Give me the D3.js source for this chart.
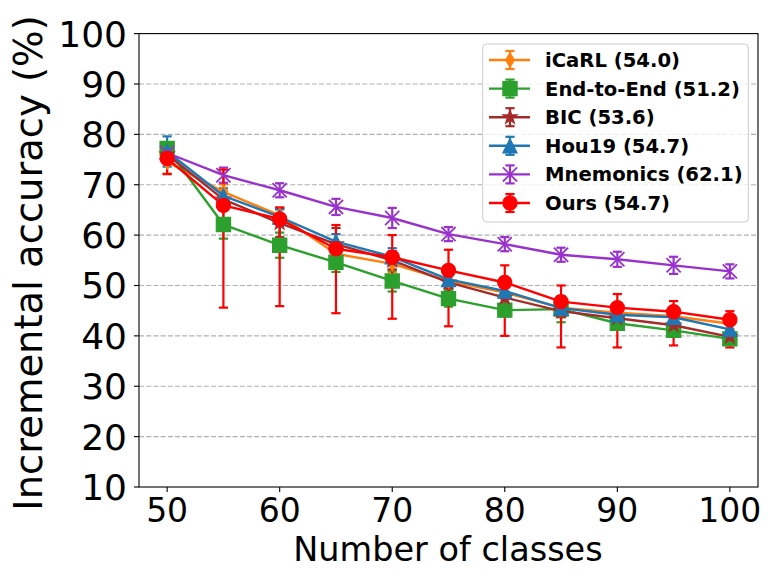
<!DOCTYPE html>
<html>
<head>
<meta charset="utf-8">
<script src="https://cdn.jsdelivr.net/npm/d3@7"></script>
<style>
  html, body { margin: 0; padding: 0; background: #fff; }
  svg { display: block; }
  text { font-family: "DejaVu Sans", sans-serif; }
</style>
</head>
<body>
<svg id="chart" width="771" height="578"></svg>
<script>
// ---- data ----
const classes = [50, 55, 60, 65, 70, 75, 80, 85, 90, 95, 100];
const yTicks = [10, 20, 30, 40, 50, 60, 70, 80, 90, 100];
const xTicks = [50, 60, 70, 80, 90, 100];

const seriesNames = ["iCaRL (54.0)", "End-to-End (51.2)", "BIC (53.6)", "Hou19 (54.7)", "Mnemonics (62.1)", "Ours (54.7)"];

const icarl     = [74.5, 68.6, 63.9, 56.3, 54.3, 50.9, 48.6, 45.6, 44.6, 43.9, 42.4];
const icarlErr  = [2.3, 1.5, 1.5, 1.5, 1.6, 1.4, 1.3, 1.2, 1.2, 1.1, 1.0];
const e2e       = [77.2, 62.1, 58.0, 54.6, 50.9, 47.4, 45.1, 45.3, 42.5, 41.1, 39.4];
const e2eErr    = [1.2, 2.8, 2.5, 1.9, 2.1, 1.6, 1.2, 2.6, 1.2, 1.1, 1.0];
const bic       = [76.0, 67.1, 62.4, 58.2, 55.0, 50.6, 47.6, 44.9, 43.5, 42.1, 39.8];
const bicErr    = [1.5, 1.5, 2.8, 3.2, 1.8, 1.2, 1.2, 1.2, 1.2, 1.1, 1.0];
const hou       = [76.6, 67.8, 63.6, 58.7, 55.7, 51.2, 48.9, 45.5, 44.2, 43.7, 41.3];
const houErr    = [3.0, 1.5, 1.5, 1.5, 1.7, 1.4, 1.3, 1.2, 1.2, 1.5, 1.0];
const mnem      = [76.3, 71.9, 68.9, 65.6, 63.4, 60.2, 58.2, 56.1, 55.2, 54.0, 52.8];
const mnemErr   = [1.5, 1.5, 1.4, 1.6, 2.0, 1.4, 1.4, 1.4, 1.5, 1.7, 1.4];
const ours      = [75.2, 65.9, 63.2, 57.3, 55.6, 53.0, 50.6, 46.8, 45.6, 44.8, 43.2];
const oursErrUp = [1.5, 7.1, 2.3, 4.7, 4.4, 4.1, 3.4, 3.2, 2.7, 2.1, 1.7];
const oursErrDn = [3.1, 20.3, 17.3, 12.8, 12.2, 11.1, 10.6, 9.1, 7.9, 6.7, 5.5];

// ---- styling ----
const colors = ["#ff7f0e", "#2ca02c", "#a52a2a", "#1f77b4", "#9932cc", "#ff0000"];
const markers = ["thinDiamond", "square", "star", "triangle", "x", "circle"];

const series = [
  { name: seriesNames[0], vals: icarl, up: icarlErr, dn: icarlErr },
  { name: seriesNames[1], vals: e2e, up: e2eErr, dn: e2eErr },
  { name: seriesNames[2], vals: bic, up: bicErr, dn: bicErr },
  { name: seriesNames[3], vals: hou, up: houErr, dn: houErr },
  { name: seriesNames[4], vals: mnem, up: mnemErr, dn: mnemErr },
  { name: seriesNames[5], vals: ours, up: oursErrUp, dn: oursErrDn }
].map((s, i) => ({ ...s, color: colors[i], marker: markers[i] }));

const svg = d3.select("#chart");
const L = 139, R = 758, T = 33.6, B = 487;
const x = d3.scaleLinear().domain([47.5, 102.5]).range([L, R]);
const y = d3.scaleLinear().domain([10, 100]).range([B, T]);

// grid
svg.append("g").selectAll("line").data(yTicks.filter(v => v > 10 && v < 100)).join("line")
  .attr("x1", L).attr("x2", R)
  .attr("y1", d => y(d)).attr("y2", d => y(d))
  .attr("stroke", "#b0b0b0").attr("stroke-width", 1.1)
  .attr("stroke-dasharray", "5,2.2");

function markerPath(type, ms) {
  const h = ms / 2;
  const p = d3.path();
  if (type === "circle") {
    p.arc(0, 0, h, 0, 2 * Math.PI);
  } else if (type === "square") {
    p.rect(-h, -h, ms, ms);
  } else if (type === "triangle") {
    p.moveTo(0, -h); p.lineTo(h, h); p.lineTo(-h, h); p.closePath();
  } else if (type === "thinDiamond") {
    const a = h * 1.0, b = h * 0.62;
    p.moveTo(0, -a); p.lineTo(b, 0); p.lineTo(0, a); p.lineTo(-b, 0); p.closePath();
  } else if (type === "star") {
    const ro = h * 1.05, ri = ro * 0.381966;
    for (let k = 0; k < 10; k++) {
      const r = k % 2 === 0 ? ro : ri;
      const ang = -Math.PI / 2 + k * Math.PI / 5;
      const px = r * Math.cos(ang), py = r * Math.sin(ang);
      if (k === 0) p.moveTo(px, py); else p.lineTo(px, py);
    }
    p.closePath();
  } else if (type === "x") {
    p.moveTo(-h, -h); p.lineTo(h, h); p.moveTo(-h, h); p.lineTo(h, -h);
  }
  return p.toString();
}

function drawMarker(g, type, cx, cy, color, ms) {
  const path = g.append("path")
    .attr("d", markerPath(type, ms))
    .attr("transform", `translate(${cx},${cy})`);
  if (type === "x") {
    path.attr("fill", "none").attr("stroke", color).attr("stroke-width", 1.8);
  } else {
    path.attr("fill", color).attr("stroke", color).attr("stroke-width", 1.2).attr("stroke-linejoin", "miter");
  }
}

const MS = 14.2, CAP = 4.6;

// error bars (all below data lines)
const eg = svg.append("g");
series.forEach(s => {
  const g = eg.append("g").attr("stroke", s.color).attr("stroke-width", 2.2);
  classes.forEach((c, i) => {
    const cx = x(c), y1 = y(s.vals[i] + s.up[i]), y2 = y(s.vals[i] - s.dn[i]);
    g.append("line").attr("x1", cx).attr("x2", cx).attr("y1", y1).attr("y2", y2);
    g.append("line").attr("x1", cx - CAP).attr("x2", cx + CAP).attr("y1", y1).attr("y2", y1);
    g.append("line").attr("x1", cx - CAP).attr("x2", cx + CAP).attr("y1", y2).attr("y2", y2);
  });
});

// data lines and markers
const line = d3.line().x(d => x(d[0])).y(d => y(d[1]));
series.forEach(s => {
  const g = svg.append("g");
  g.append("path")
    .attr("d", line(classes.map((c, i) => [c, s.vals[i]])))
    .attr("fill", "none").attr("stroke", s.color).attr("stroke-width", 2.4)
    .attr("stroke-linejoin", "round");
  classes.forEach((c, i) => drawMarker(g, s.marker, x(c), y(s.vals[i]), s.color, MS));
});

// axes frame
svg.append("rect").attr("x", L).attr("y", T).attr("width", R - L).attr("height", B - T)
  .attr("fill", "none").attr("stroke", "#000").attr("stroke-width", 1.1);

// y ticks
const yt = svg.append("g");
yTicks.forEach(v => {
  yt.append("line").attr("x1", L - 5).attr("x2", L).attr("y1", y(v)).attr("y2", y(v))
    .attr("stroke", "#000").attr("stroke-width", 1.1);
  yt.append("text").attr("x", L - 12).attr("y", y(v)).attr("dy", "0.36em")
    .attr("text-anchor", "end").attr("font-size", 36).attr("fill", "#000").text(v);
});
// x ticks
const xt = svg.append("g");
xTicks.forEach(v => {
  xt.append("line").attr("x1", x(v)).attr("x2", x(v)).attr("y1", B).attr("y2", B + 5)
    .attr("stroke", "#000").attr("stroke-width", 1.1);
  xt.append("text").attr("x", x(v)).attr("y", B + 35)
    .attr("text-anchor", "middle").attr("font-size", 33).attr("fill", "#000").text(v);
});

// axis labels
svg.append("text").attr("x", 448).attr("y", 561).attr("text-anchor", "middle")
  .attr("font-size", 33.5).attr("fill", "#000").text("Number of classes");
svg.append("text").attr("transform", "translate(42,263) rotate(-90)").attr("text-anchor", "middle")
  .attr("font-size", 38.5).attr("fill", "#000").text("Incremental accuracy (%)");

// legend
const lg = svg.append("g");
lg.append("rect").attr("x", 482.7).attr("y", 44).attr("width", 265.6).attr("height", 178)
  .attr("rx", 4).attr("fill", "#fff").attr("fill-opacity", 0.8)
  .attr("stroke", "#cccccc").attr("stroke-width", 1);
series.forEach((s, i) => {
  const ry = 60 + i * 28.6;
  const g = lg.append("g");
  g.append("line").attr("x1", 489).attr("x2", 530).attr("y1", ry).attr("y2", ry)
    .attr("stroke", s.color).attr("stroke-width", 2.4);
  g.append("line").attr("x1", 510).attr("x2", 510).attr("y1", ry - 9).attr("y2", ry + 9)
    .attr("stroke", s.color).attr("stroke-width", 2.2);
  [ry - 9, ry + 9].forEach(cy => g.append("line").attr("x1", 510 - CAP).attr("x2", 510 + CAP)
    .attr("y1", cy).attr("y2", cy).attr("stroke", s.color).attr("stroke-width", 2.2));
  drawMarker(g, s.marker, 510, ry, s.color, MS);
  g.append("text").attr("x", 545).attr("y", ry).attr("dy", "0.36em")
    .attr("font-size", 19.6).attr("font-weight", "bold").attr("fill", "#000").text(s.name);
});
</script>
</body>
</html>
